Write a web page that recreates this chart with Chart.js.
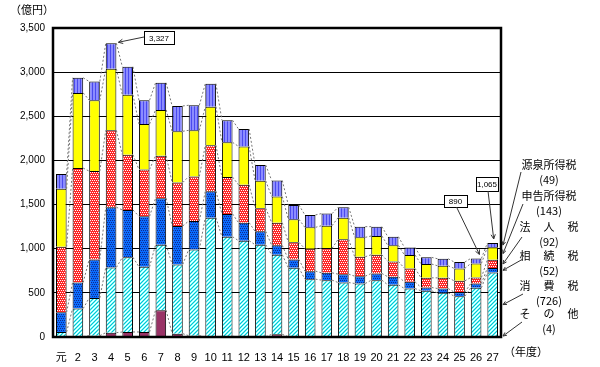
<!DOCTYPE html>
<html>
<head>
<meta charset="utf-8">
<script src="https://cdn.jsdelivr.net/npm/chart.js@4/dist/chart.umd.min.js"></script>
<style>
  body { margin: 0; background: #fff; }
  #wrap { width: 600px; height: 367px; }
</style>
</head>
<body>
<div id="wrap"><canvas id="c" width="600" height="367"></canvas></div>
<script>
// ==================== DATA ====================
const YEARS = ['元','2','3','4','5','6','7','8','9','10','11','12','13','14','15','16','17','18','19','20','21','22','23','24','25','26','27'];
const Y_TICKS = [0, 500, 1000, 1500, 2000, 2500, 3000, 3500];

// bottom -> top
const OTHER       = [0, 5, 15, 49, 57, 57, 303, 38, 15, 0, 8, 4, 4, 30, 3, 3, 3, 3, 3, 3, 3, 3, 3, 3, 3, 3, 4];
const CONSUMPTION = [57, 317, 428, 739, 845, 738, 742, 784, 977, 1352, 1128, 1087, 1041, 902, 781, 652, 641, 614, 603, 641, 588, 546, 520, 497, 459, 554, 726];
const INHERIT     = [223, 295, 436, 682, 537, 572, 527, 436, 322, 300, 258, 204, 152, 106, 95, 91, 83, 95, 83, 76, 91, 76, 38, 49, 46, 49, 52];
const CORPORATE   = [743, 1296, 1000, 871, 625, 531, 481, 492, 504, 519, 417, 429, 261, 257, 193, 254, 277, 394, 220, 212, 174, 152, 109, 121, 128, 68, 92];
const SELF_ASSESS = [655, 852, 803, 697, 679, 515, 519, 580, 523, 438, 394, 435, 311, 296, 261, 242, 257, 246, 220, 212, 182, 151, 156, 137, 141, 159, 143];
const WITHHOLD    = [167, 171, 212, 289, 318, 269, 307, 287, 284, 260, 250, 197, 178, 182, 163, 141, 137, 118, 121, 106, 98, 87, 76, 79, 72, 57, 48];

// callouts: [category index, text]
const CALLOUTS = [[3, '3,327'], [25, '890'], [26, '1,065']];

// right side labels, top -> bottom (dataset index, name, value)
const SIDE_LABELS = [
  [5, '源泉所得税', '(49)'],
  [4, '申告所得税', '(143)'],
  [3, '法人税', '(92)'],
  [2, '相続税', '(52)'],
  [1, '消費税', '(726)'],
  [0, 'その他', '(4)']
];

// ==================== PATTERNS ====================
const pctx = document.createElement('canvas').getContext('2d');
function makePattern(size, draw) {
  const c = document.createElement('canvas');
  c.width = size;
  c.height = size;
  draw(c.getContext('2d'));
  return pctx.createPattern(c, 'repeat');
}
const DOTS = [[0, 0], [2, 0], [1, 2], [3, 2]];
const patCyan = makePattern(4, g => {
  g.fillStyle = '#7ff'; g.fillRect(0, 0, 4, 4);
  for (let i = 0; i < 4; i++) {
    g.fillStyle = '#1bc'; g.fillRect(i, 3 - i, 1, 1);
    g.fillStyle = '#fff'; g.fillRect(i, (5 - i) % 4, 1, 1);
  }
});
const patBlue = makePattern(4, g => {
  g.fillStyle = '#0a6cff'; g.fillRect(0, 0, 4, 4);
  g.fillStyle = '#102a8c';
  DOTS.forEach(([x, y]) => g.fillRect(x, y, 1, 1));
});
const patRed = makePattern(4, g => {
  g.fillStyle = '#ff2626'; g.fillRect(0, 0, 4, 4);
  g.fillStyle = '#fff';
  DOTS.forEach(([x, y]) => g.fillRect(x, y, 1, 1));
});
const patViolet = makePattern(3, g => {
  g.fillStyle = '#8c8cff'; g.fillRect(0, 0, 3, 3);
  g.fillStyle = '#4a4aee'; g.fillRect(2, 0, 1, 3);
});

const FONT = "'Liberation Sans', 'Noto Sans CJK JP', sans-serif";
const JFONT = "'Noto Sans CJK JP', sans-serif";

// ==================== PLUGIN ====================
function arrow(ctx, x1, y1, x2, y2, head) {
  ctx.beginPath(); ctx.moveTo(x1, y1); ctx.lineTo(x2, y2); ctx.stroke();
  const a = Math.atan2(y2 - y1, x2 - x1);
  ctx.beginPath();
  ctx.moveTo(x2 - head * Math.cos(a - 0.45), y2 - head * Math.sin(a - 0.45));
  ctx.lineTo(x2, y2);
  ctx.lineTo(x2 - head * Math.cos(a + 0.45), y2 - head * Math.sin(a + 0.45));
  ctx.stroke();
}

const extras = {
  id: 'extras',
  afterDatasetsDraw(chart) {
    const ctx = chart.ctx;
    const area = chart.chartArea;
    ctx.save();

    // series lines between neighbouring bars
    ctx.strokeStyle = '#777';
    ctx.lineWidth = 1;
    ctx.setLineDash([2, 2]);
    chart.data.datasets.forEach((ds, d) => {
      const bars = chart.getDatasetMeta(d).data;
      for (let i = 0; i < bars.length - 1; i++) {
        const a = bars[i], b = bars[i + 1];
        ctx.beginPath();
        ctx.moveTo(a.x + a.width / 2, a.y);
        ctx.lineTo(b.x - b.width / 2, b.y);
        ctx.stroke();
      }
    });
    ctx.setLineDash([]);

    // frame
    ctx.strokeStyle = '#000';
    ctx.lineWidth = 2.5;
    ctx.strokeRect(area.left, area.top, area.right - area.left, area.bottom - area.top);

    // axis captions
    ctx.fillStyle = '#000';
    ctx.font = '11px ' + JFONT;
    ctx.textBaseline = 'middle';
    ctx.textAlign = 'left';
    ctx.fillText('（億円）', 10, 10);
    ctx.fillText('（年度）', 504, 352);

    // callouts
    ctx.lineWidth = 1;
    ctx.font = '8px ' + FONT;
    const top = chart.getDatasetMeta(5).data;
    const boxes = [[144, 31, 30, 13], [444, 195, 23, 12], [476, 177, 22, 14]];
    CALLOUTS.forEach(([idx, text], k) => {
      const [bx, by, bw, bh] = boxes[k];
      const bar = top[idx];
      ctx.fillStyle = '#fff';
      ctx.fillRect(bx, by, bw, bh);
      ctx.strokeStyle = '#000';
      ctx.strokeRect(bx + 0.5, by + 0.5, bw, bh);
      ctx.fillStyle = '#000';
      ctx.textAlign = 'center';
      ctx.fillText(text, bx + bw / 2, by + bh / 2 + 1);
      ctx.strokeStyle = '#333';
      if (k === 0) arrow(ctx, bx, by + 6, bar.x + bar.width / 2 + 2, bar.y - 1, 5);
      else arrow(ctx, bx + bw / 2 + 1, by + bh, bar.x + (k === 2 ? 1 : bar.width / 2 - 2), bar.y - 4, 5);
    });

    // side labels with leader lines
    const starts = [[521, 172], [523, 204], [522, 237], [523, 259], [523, 294], [522, 322]];
    const ty = [165, 196, 227, 256, 286, 314];
    ctx.font = '11px ' + JFONT;
    ctx.textAlign = 'center';
    SIDE_LABELS.forEach(([d, name, val], k) => {
      const cx = 549;
      if (name.length === 3) {
        for (let j = 0; j < 3; j++) ctx.fillText(name[j], cx - 24 + j * 24, ty[k]);
      } else {
        ctx.fillText(name, cx, ty[k]);
      }
      ctx.fillText(val, cx, ty[k] + 15);
      const bar = chart.getDatasetMeta(d).data[YEARS.length - 1];
      const mid = (bar.y + bar.base) / 2;
      ctx.strokeStyle = '#333';
      arrow(ctx, starts[k][0], starts[k][1], area.right + 2, Math.min(mid, area.bottom - 1), 4);
    });

    ctx.restore();
  }
};

// ==================== CHART ====================
const series = [
  ['その他', OTHER, '#993366'],
  ['消費税', CONSUMPTION, patCyan],
  ['相続税', INHERIT, patBlue],
  ['法人税', CORPORATE, patRed],
  ['申告所得税', SELF_ASSESS, '#ffff00'],
  ['源泉所得税', WITHHOLD, patViolet]
];

new Chart(document.getElementById('c'), {
  type: 'bar',
  data: {
    labels: YEARS,
    datasets: series.map(([label, data, bg]) => ({
      label,
      data,
      backgroundColor: bg,
      borderColor: '#000',
      borderWidth: 1,
      categoryPercentage: 1,
      barPercentage: 0.64
    }))
  },
  options: {
    responsive: false,
    animation: false,
    layout: { padding: { top: 28, right: 99, bottom: 0, left: 0 } },
    plugins: { legend: { display: false }, tooltip: { enabled: false } },
    scales: {
      x: {
        stacked: true,
        grid: { display: false },
        border: { display: false },
        ticks: { color: '#000', font: { family: FONT, size: 11 }, padding: 6, maxRotation: 0, autoSkip: false },
        afterFit: s => { s.height = 30; }
      },
      y: {
        stacked: true,
        min: 0,
        max: 3500,
        afterBuildTicks: s => { s.ticks = Y_TICKS.map(v => ({ value: v })); },
        grid: { color: '#000', lineWidth: 1, drawTicks: false },
        border: { display: false },
        ticks: {
          color: '#000',
          font: { family: FONT, size: 10 },
          padding: 8,
          callback: v => v.toLocaleString('en-US')
        },
        afterFit: s => { s.width = 53; }
      }
    }
  },
  plugins: [extras]
});
</script>
</body>
</html>
